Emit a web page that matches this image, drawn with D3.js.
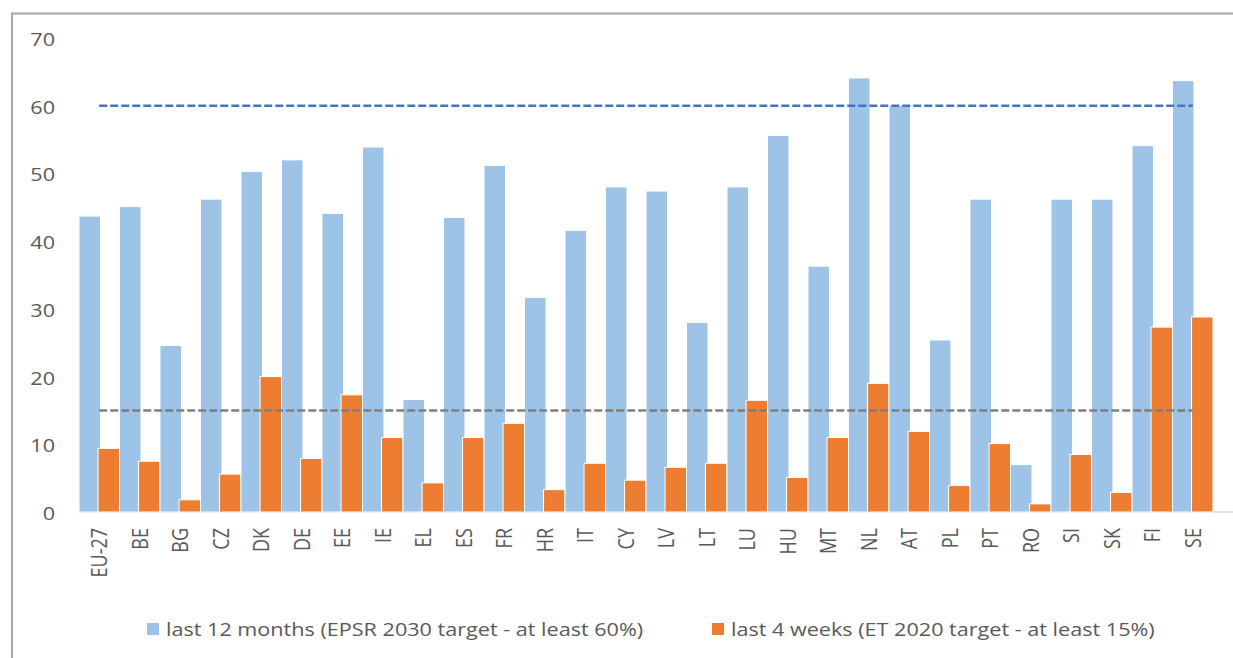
<!DOCTYPE html>
<html>
<head>
<meta charset="utf-8">
<script src="https://cdn.jsdelivr.net/npm/d3@7"></script>
<style>
  html, body { margin: 0; padding: 0; background: #fff; overflow: hidden; }
  svg { display: block; }
  text { font-family: "Open Sans", "Noto Sans", sans-serif; fill: #595959; }
</style>
</head>
<body>
<div id="chart"></div>
<script>
const categories = ['EU-27', 'BE', 'BG', 'CZ', 'DK', 'DE', 'EE', 'IE', 'EL', 'ES', 'FR', 'HR', 'IT', 'CY',
  'LV', 'LT', 'LU', 'HU', 'MT', 'NL', 'AT', 'PL', 'PT', 'RO', 'SI', 'SK', 'FI', 'SE'];
const last12Months = [43.7, 45.1, 24.6, 46.2, 50.3, 52.0, 44.1, 53.9, 16.6, 43.5, 51.2, 31.7, 41.6, 48.0,
  47.4, 28.0, 48.0, 55.6, 36.3, 64.1, 60.0, 25.4, 46.2, 7.0, 46.2, 46.2, 54.1, 63.7];
const last4Weeks = [9.4, 7.5, 1.8, 5.6, 20.0, 7.9, 17.3, 11.0, 4.3, 11.0, 13.1, 3.3, 7.2, 4.7,
  6.6, 7.2, 16.5, 5.1, 11.0, 19.0, 11.9, 3.9, 10.1, 1.2, 8.5, 2.9, 27.3, 28.8];
const targets = [
  { value: 60, color: '#4472C4' },
  { value: 15, color: '#7F7F7F' }
];
const yTicks = [0, 10, 20, 30, 40, 50, 60, 70];
const legendLabels = ['last 12 months (EPSR 2030 target - at least 60%)', 'last 4 weeks (ET 2020 target - at least 15%)'];

const W = 1233, H = 658;
const stretch = 1.2; // text in the original is slightly wide
const plot = { left: 79, step: 40.5, top: 38, bottom: 512 };

const svg = d3.select('#chart').append('svg')
  .attr('width', W)
  .attr('height', H);

// outer chart frame: only left and top edges are in view
svg.append('path')
  .attr('d', `M12,${H} V13.5 H${W}`)
  .attr('fill', 'none')
  .attr('stroke', '#a6a6a6')
  .attr('stroke-width', 2);

const x = d3.scaleBand()
  .domain(categories)
  .range([plot.left, plot.left + plot.step * categories.length])
  .padding(0);

const y = d3.scaleLinear()
  .domain([0, 70])
  .range([plot.bottom, plot.top]);

const barW = x.bandwidth() * 0.53;

// y tick labels
svg.append('g').selectAll('text')
  .data(yTicks)
  .join('text')
  .attr('transform', d => `translate(55,${y(d) + 8}) scale(${stretch},1)`)
  .attr('text-anchor', 'end')
  .style('font-size', '18px')
  .text(d => d);

// baseline
svg.append('line')
  .attr('x1', plot.left).attr('x2', W)
  .attr('y1', y(0)).attr('y2', y(0))
  .attr('stroke', '#d9d9d9')
  .attr('stroke-width', 1.5);

// bars
const groups = svg.append('g').selectAll('g')
  .data(categories)
  .join('g');

groups.append('rect')
  .attr('x', d => x(d))
  .attr('y', (d, i) => y(last12Months[i]))
  .attr('width', barW)
  .attr('height', (d, i) => y(0) - y(last12Months[i]))
  .attr('fill', '#9DC3E6')
  .attr('stroke', '#fff')
  .attr('stroke-width', 1);

groups.append('rect')
  .attr('x', d => x(d) + x.bandwidth() - barW)
  .attr('y', (d, i) => y(last4Weeks[i]))
  .attr('width', barW)
  .attr('height', (d, i) => y(0) - y(last4Weeks[i]))
  .attr('fill', '#ED7D31')
  .attr('stroke', '#fff')
  .attr('stroke-width', 1);

// target lines
const first = categories[0], last = categories[categories.length - 1];
svg.append('g').selectAll('line')
  .data(targets)
  .join('line')
  .attr('x1', x(first) + x.bandwidth() / 2)
  .attr('x2', x(last) + x.bandwidth() / 2)
  .attr('y1', d => y(d.value))
  .attr('y2', d => y(d.value))
  .attr('stroke', d => d.color)
  .attr('stroke-width', 2.6)
  .attr('stroke-dasharray', '8,3');

// category labels, rotated
svg.append('g').selectAll('text')
  .data(categories)
  .join('text')
  .attr('transform', d => `translate(${x(d) + x.bandwidth() / 2},528) scale(${stretch},1) rotate(-90)`)
  .attr('text-anchor', 'end')
  .attr('dy', '0.36em')
  .style('font-size', '18px')
  .text(d => d);

// legend
const legendX = [147, 712];
const legendColors = ['#9DC3E6', '#ED7D31'];
const legend = svg.append('g').selectAll('g')
  .data(legendLabels)
  .join('g')
  .attr('transform', (d, i) => `translate(${legendX[i]},629)`);

legend.append('rect')
  .attr('x', 0).attr('y', -6)
  .attr('width', 12).attr('height', 12)
  .attr('fill', (d, i) => legendColors[i]);

legend.append('text')
  .attr('transform', `translate(19,6.5) scale(${stretch},1)`)
  .style('font-size', '18px')
  .text(d => d);
</script>
</body>
</html>
